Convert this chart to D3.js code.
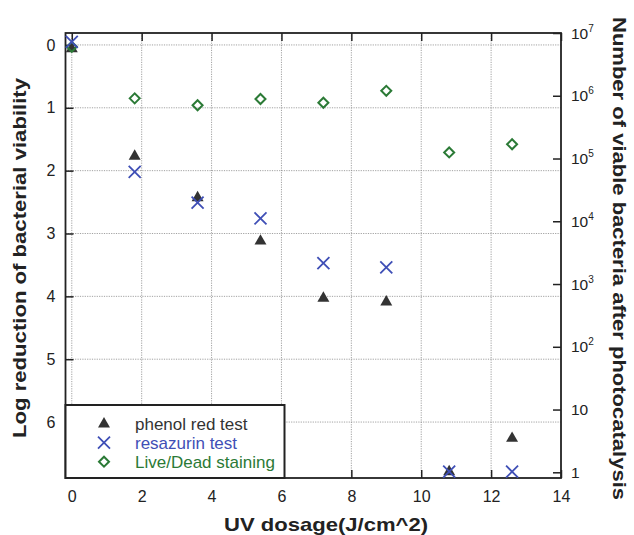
<!DOCTYPE html>
<html><head><meta charset="utf-8">
<script src="https://cdn.jsdelivr.net/npm/d3@7"></script>
<style>body{margin:0;background:#fff}svg{display:block}text{font-family:"Liberation Sans",Arial,sans-serif}</style>
</head><body>
<svg id="c" width="634" height="535"></svg>
<script>
const dosage = [0, 1.8, 3.6, 5.4, 7.2, 9, 10.8, 12.6];
const phenolRed = [0.06, 1.77, 2.43, 3.12, 4.03, 4.09, 6.79, 6.26];
const resazurin = [-0.05, 2.02, 2.51, 2.76, 3.47, 3.54, 6.79, 6.79];
const liveDead = [0.03, 0.85, 0.96, 0.86, 0.92, 0.73, 1.71, 1.58];
const xTicks = [0, 2, 4, 6, 8, 10, 12, 14];
const yTicks = [0, 1, 2, 3, 4, 5, 6];
const rightTicks = [1, 10, 100, 1e3, 1e4, 1e5, 1e6, 1e7];
const seriesNames = ["phenol red test", "resazurin test", "Live/Dead staining"];

const L = 65.5, R = 561, T = 33, B = 478;
const svg = d3.select("#c");
const x = d3.scaleLinear().domain([-0.18, 14]).range([L, R]);
const y = d3.scaleLinear().domain([-0.19, 6.89]).range([T, B]);
const yr = d3.scaleLog().domain([1, 1e7]).range([472.3, 33]);

const blue = "#3f4fb6", green = "#2b7a36", dark = "#333";

// grid
const g = svg.append("g");
g.selectAll(".vg").data(xTicks.filter(d => d < 14)).join("line")
  .attr("x1", d => x(d)).attr("x2", d => x(d)).attr("y1", T).attr("y2", B)
  .attr("stroke", "#8a8a8a").attr("stroke-width", 0.8).attr("stroke-dasharray", "1.2,1.2");
g.selectAll(".hg").data(yTicks).join("line")
  .attr("x1", L).attr("x2", R).attr("y1", d => y(d)).attr("y2", d => y(d))
  .attr("stroke", "#8a8a8a").attr("stroke-width", 0.8).attr("stroke-dasharray", "1.2,1.2");

// axes with inward ticks
const fs = "16px";
const axL = svg.append("g").attr("transform", `translate(${L},0)`)
  .call(d3.axisLeft(y).tickValues(yTicks).tickSize(-8).tickPadding(10).tickFormat(d3.format("d")));
const axB = svg.append("g").attr("transform", `translate(0,${B})`)
  .call(d3.axisBottom(x).tickValues(xTicks).tickSize(-8).tickPadding(13).tickFormat(d3.format("d")));
const axT = svg.append("g").attr("transform", `translate(0,${T})`)
  .call(d3.axisTop(x).tickValues(xTicks).tickSize(-8).tickFormat(""));
const axR = svg.append("g").attr("transform", `translate(${R},0)`)
  .call(d3.axisRight(yr).tickValues(rightTicks).tickSize(-8).tickFormat(""));
[axL, axB, axT, axR].forEach(a => {
  a.select(".domain").remove();
  a.selectAll(".tick line").attr("stroke", "#222").attr("stroke-width", 1.5);
  a.selectAll("text").attr("font-size", fs).attr("fill", "#222")
    .style("font-family", '"Liberation Sans",Arial,sans-serif');
});

// right tick labels with superscripts
const rl = svg.append("g");
rightTicks.forEach(v => {
  const e = Math.round(Math.log10(v));
  const t = rl.append("text").attr("x", R + 10).attr("y", yr(v) + 5.5)
    .attr("font-size", "15.5px").attr("fill", "#222");
  if (e === 0) t.text("1");
  else if (e === 1) t.text("10");
  else {
    t.append("tspan").text("10");
    t.append("tspan").attr("dy", -7).attr("font-size", "10px").text(e);
  }
});

// frame
svg.append("rect").attr("x", L).attr("y", T).attr("width", R - L).attr("height", B - T)
  .attr("fill", "none").attr("stroke", "#222").attr("stroke-width", 1.8);

// markers
const tri = d3.symbol().type(d3.symbolTriangle).size(62);
const data = dosage.map((d, i) => ({x: d, p: phenolRed[i], r: resazurin[i], l: liveDead[i]}));
svg.append("g").selectAll("path").data(data).join("path")
  .attr("d", tri).attr("transform", d => `translate(${x(d.x)},${y(d.p)})`).attr("fill", dark);
svg.append("g").selectAll("path").data(data).join("path")
  .attr("d", "M-5,0L0,-5L5,0L0,5Z").attr("transform", d => `translate(${x(d.x)},${y(d.l)})`)
  .attr("fill", "none").attr("stroke", green).attr("stroke-width", 2);
svg.append("g").selectAll("path").data(data).join("path")
  .attr("d", "M-6,-6L6,6M-6,6L6,-6").attr("transform", d => `translate(${x(d.x)},${y(d.r)})`)
  .attr("fill", "none").attr("stroke", blue).attr("stroke-width", 1.8);

// legend
const lg = svg.append("g");
lg.append("rect").attr("x", L).attr("y", 405).attr("width", 219).attr("height", B - 405)
  .attr("fill", "#fff").attr("stroke", "#222").attr("stroke-width", 2);
const rows = [424, 442.7, 461.7];
const cols = [dark, blue, green];
lg.append("path").attr("d", tri).attr("transform", `translate(104,${rows[0]})`).attr("fill", dark);
lg.append("path").attr("d", "M-6,-6L6,6M-6,6L6,-6").attr("transform", `translate(104,${rows[1]})`)
  .attr("stroke", blue).attr("stroke-width", 1.8).attr("fill", "none");
lg.append("path").attr("d", "M-5,0L0,-5L5,0L0,5Z").attr("transform", `translate(104,${rows[2]})`)
  .attr("stroke", green).attr("stroke-width", 2).attr("fill", "none");
seriesNames.forEach((n, i) => {
  lg.append("text").attr("x", 135).attr("y", rows[i] + 6).attr("font-size", "17px")
    .attr("fill", cols[i]).text(n);
});

// titles
function title(sel, len) {
  return sel.attr("text-anchor", "middle").attr("font-size", "19px").attr("font-weight", "bold")
    .attr("fill", "#222").attr("textLength", len).attr("lengthAdjust", "spacingAndGlyphs");
}
title(svg.append("text").attr("transform", `translate(26,258) rotate(-90)`), 360)
  .text("Log reduction of bacterial viability");
title(svg.append("text").attr("transform", `translate(613,258.5) rotate(90)`), 483)
  .text("Number of viable bacteria after photocatalysis");
title(svg.append("text").attr("x", 326).attr("y", 531), 204)
  .text("UV dosage(J/cm^2)");
</script>
</body></html>
